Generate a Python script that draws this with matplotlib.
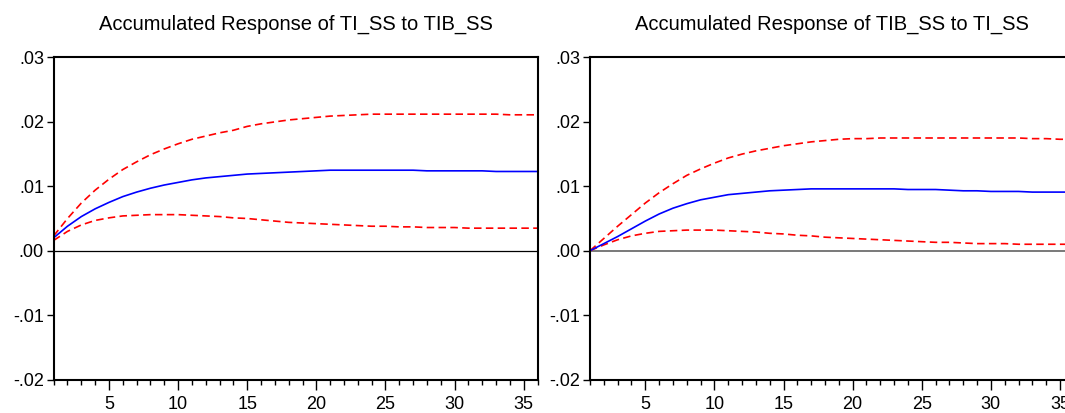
import numpy as np
import matplotlib
matplotlib.use("Agg")
import matplotlib.pyplot as plt
from matplotlib.ticker import FixedLocator, FuncFormatter

plt.rcParams['font.family'] = ['Liberation Sans', 'DejaVu Sans']

periods = list(range(1, 37))

# response of TI_SS to TIB_SS (accumulated) with +/- 2 s.e. bands
ti_resp = [0.0020, 0.0038, 0.0053, 0.0065, 0.0075, 0.0084, 0.0091, 0.0097, 0.0102, 0.0106,
           0.0110, 0.0113, 0.0115, 0.0117, 0.0119, 0.0120, 0.0121, 0.0122, 0.0123, 0.0124,
           0.0125, 0.0125, 0.0125, 0.0125, 0.0125, 0.0125, 0.0125, 0.0124, 0.0124, 0.0124,
           0.0124, 0.0124, 0.0123, 0.0123, 0.0123, 0.0123]
ti_upper = [0.0023, 0.0050, 0.0074, 0.0094, 0.0111, 0.0126, 0.0138, 0.0149, 0.0158, 0.0166,
            0.0173, 0.0178, 0.0183, 0.0187, 0.0193, 0.0197, 0.0200, 0.0203, 0.0205, 0.0207,
            0.0209, 0.0210, 0.0211, 0.0212, 0.0212, 0.0212, 0.0212, 0.0212, 0.0212, 0.0212,
            0.0212, 0.0212, 0.0212, 0.0211, 0.0211, 0.0211]
ti_lower = [0.0016, 0.0030, 0.0040, 0.0047, 0.0051, 0.0054, 0.0055, 0.0056, 0.0056, 0.0056,
            0.0055, 0.0054, 0.0053, 0.0051, 0.0050, 0.0048, 0.0046, 0.0044, 0.0043, 0.0042,
            0.0041, 0.0040, 0.0039, 0.0038, 0.0038, 0.0037, 0.0037, 0.0036, 0.0036, 0.0036,
            0.0035, 0.0035, 0.0035, 0.0035, 0.0035, 0.0035]

# response of TIB_SS to TI_SS (accumulated) with +/- 2 s.e. bands
tib_resp = [0.0000, 0.0011, 0.0022, 0.0034, 0.0046, 0.0057, 0.0066, 0.0073, 0.0079, 0.0083,
            0.0087, 0.0089, 0.0091, 0.0093, 0.0094, 0.0095, 0.0096, 0.0096, 0.0096, 0.0096,
            0.0096, 0.0096, 0.0096, 0.0095, 0.0095, 0.0095, 0.0094, 0.0093, 0.0093, 0.0092,
            0.0092, 0.0092, 0.0091, 0.0091, 0.0091, 0.0091]
tib_upper = [0.0000, 0.0019, 0.0038, 0.0056, 0.0074, 0.0090, 0.0104, 0.0117, 0.0127, 0.0136,
             0.0144, 0.0150, 0.0155, 0.0159, 0.0163, 0.0166, 0.0169, 0.0171, 0.0173, 0.0174,
             0.0174, 0.0175, 0.0175, 0.0175, 0.0175, 0.0175, 0.0175, 0.0175, 0.0175, 0.0175,
             0.0175, 0.0175, 0.0174, 0.0174, 0.0173, 0.0173]
tib_lower = [0.0000, 0.0009, 0.0017, 0.0023, 0.0027, 0.0030, 0.0031, 0.0032, 0.0032, 0.0032,
             0.0031, 0.0030, 0.0029, 0.0027, 0.0026, 0.0024, 0.0023, 0.0021, 0.0020, 0.0019,
             0.0018, 0.0017, 0.0016, 0.0015, 0.0014, 0.0013, 0.0013, 0.0012, 0.0011, 0.0011,
             0.0011, 0.0010, 0.0010, 0.0010, 0.0010, 0.0010]

titles = ['Accumulated Response of TI_SS to TIB_SS',
          'Accumulated Response of TIB_SS to TI_SS']
y_ticks = [-0.02, -0.01, 0.00, 0.01, 0.02, 0.03]
x_major = [5, 10, 15, 20, 25, 30, 35]


def eviews_fmt(v, pos):
    s = '%.2f' % v
    if s.startswith('-0'):
        return '-' + s[2:]
    if s.startswith('0'):
        return s[1:]
    return s


fig = plt.figure(figsize=(10.65, 4.13), dpi=100)
ax1 = fig.add_axes([0.0504, 0.0811, 0.4543, 0.7797])
ax2 = fig.add_axes([0.5540, 0.0811, 0.4543, 0.7797])

panels = [(ax1, ti_resp, ti_upper, ti_lower, titles[0], 'black', 0.9),
          (ax2, tib_resp, tib_upper, tib_lower, titles[1], '#6e6e6e', 1.3)]

for ax, resp, up, lo, title, zc, zw in panels:
    ax.axhline(0, color=zc, lw=zw, zorder=1)
    ax.plot(periods, up, color='red', lw=1.2, dashes=(4.5, 2.6))
    ax.plot(periods, lo, color='red', lw=1.2, dashes=(4.5, 2.6))
    ax.plot(periods, resp, color='blue', lw=1.2)
    ax.set_xlim(1, 36)
    ax.set_ylim(-0.02, 0.03)
    ax.set_yticks(y_ticks)
    ax.yaxis.set_major_formatter(FuncFormatter(eviews_fmt))
    ax.xaxis.set_major_locator(FixedLocator(x_major))
    ax.xaxis.set_minor_locator(FixedLocator(periods))
    ax.tick_params(axis='both', which='major', direction='out', width=1.0,
                   labelsize=13, color='black')
    ax.tick_params(axis='x', which='major', length=7, pad=5)
    ax.tick_params(axis='x', which='minor', direction='out', length=3.5, width=1.0)
    ax.tick_params(axis='y', which='major', length=5, pad=2)
    for sp in ax.spines.values():
        sp.set_linewidth(1.5)
    ax.set_title(title, fontsize=14.5, pad=20)

fig.savefig('out.png', dpi=100)
